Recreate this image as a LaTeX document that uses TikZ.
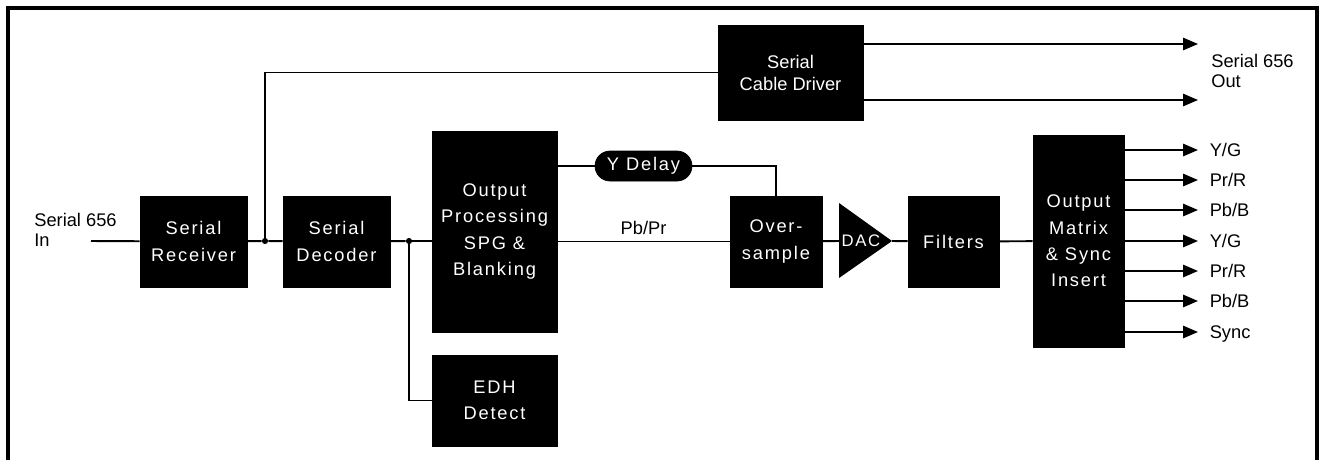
\documentclass[tikz,border=0pt]{standalone}
\usepackage{fontspec}
\setmainfont{Liberation Sans}
\newfontfamily\blkfont[LetterSpace=10]{Liberation Sans}
\usetikzlibrary{arrows.meta}

\begin{document}
\begin{tikzpicture}[x=0.02cm,y=-0.02cm,
  blk/.style={rectangle,fill=black,draw=black,text=white,inner sep=0pt,align=center,
    font=\blkfont\fontsize{10.4}{15}\selectfont},
  lbl/.style={inner sep=0pt,align=left,font=\fontsize{10.4}{11.5}\selectfont},
  outl/.style={anchor=west,inner xsep=6.5pt,inner ysep=0pt,text height=7.5pt,text depth=0pt,
    font=\fontsize{10.4}{12}\selectfont},
  wire/.style={line width=1.1pt},
  thin/.style={line width=0.6pt},
  arr/.style={line width=1.1pt,-{Triangle[length=8.5pt,width=7pt]}},
  dot/.style={circle,fill=black,inner sep=0pt,minimum size=3.5pt}]
\useasboundingbox (0,0) rectangle (1324,460);
\draw[line width=2pt] (8,460) -- (8,8) -- (1317,8) -- (1317,460);

% input
\path (34,230) node[lbl,anchor=west] (inl) {Serial 656\\In};
\coordinate (in) at (91,241);
\path (193.5,241.5) node[blk,minimum width=2.14cm,minimum height=1.82cm] (rec) {Serial\\Receiver};
\draw[wire] (in) -- (rec);
\path (265,241) node[dot] (j1) {};
\path (336.5,241.5) node[blk,minimum width=2.14cm,minimum height=1.82cm] (dec) {Serial\\Decoder};
\draw[wire] (rec) -- (j1) -- (dec);

% serial out
\path (790.5,72.5) node[blk,minimum width=2.9cm,minimum height=1.9cm,
  font=\fontsize{10.4}{12.5}\selectfont] (cdrv) {Serial\\Cable Driver};
\draw[thin] (j1) |- (cdrv);
\coordinate (so1) at (1198,44);
\coordinate (so2) at (1198,100);
\draw[arr] (cdrv.east |- so1) -- (so1);
\draw[arr] (cdrv.east |- so2) -- (so2);
\path (1211,71) node[lbl,anchor=west] (sol) {Serial 656\\Out};

% processing
\path (409,241) node[dot] (j2) {};
\draw[wire] (dec) -- (j2);
\path (494.5,231.5) node[blk,minimum width=2.5cm,minimum height=4.02cm] (proc) {Output\\Processing\\SPG \&\\Blanking};
\draw[wire] (j2) -- (proc.west |- j2);
\path (494.5,400.5) node[blk,minimum width=2.5cm,minimum height=1.82cm] (edh) {EDH\\Detect};
\draw[thin] (j2) |- (edh);

\path (643.5,166) node[blk,minimum width=1.94cm,minimum height=0.6cm,rounded corners=0.3cm] (ydel) {Y Delay};
\path (776,241.5) node[blk,minimum width=1.84cm,minimum height=1.82cm] (ovs) {Over-\\sample};
\draw[wire] (proc.east |- ydel) -- (ydel);
\draw[thin] (ydel) -| (ovs);
\draw[wire] (proc.east |- ovs) -- node[above,font=\fontsize{10.4}{12}\selectfont]{Pb/Pr} (ovs);

% DAC
\coordinate (dacin) at (839,241);
\coordinate (dacout) at (892,241);
\fill (839,203) -- (892,241) -- (839,278) -- cycle;
\path (861,241) node[text=white,inner sep=0pt,font=\blkfont\fontsize{9.5}{11}\selectfont] (dac) {DAC};
\draw[wire] (ovs) -- (dacin);
\path (953.5,241.5) node[blk,minimum width=1.82cm,minimum height=1.82cm] (filt) {Filters};
\draw[wire] (dacout) -- (filt);
\path (1078.5,241) node[blk,minimum width=1.82cm,minimum height=4.24cm] (mtx) {Output\\Matrix\\\& Sync\\Insert};
\draw[wire] (filt) -- (mtx);

% outputs
\path (1198,150) node[outl] (yg1) {Y/G};
\draw[arr] (mtx.east |- yg1) -- (yg1);
\path (1198,180) node[outl] (pr1) {Pr/R};
\draw[arr] (mtx.east |- pr1) -- (pr1);
\path (1198,210) node[outl] (pb1) {Pb/B};
\draw[arr] (mtx.east |- pb1) -- (pb1);
\path (1198,241) node[outl] (yg2) {Y/G};
\draw[arr] (mtx.east |- yg2) -- (yg2);
\path (1198,271) node[outl] (pr2) {Pr/R};
\draw[arr] (mtx.east |- pr2) -- (pr2);
\path (1198,301) node[outl] (pb2) {Pb/B};
\draw[arr] (mtx.east |- pb2) -- (pb2);
\path (1198,332) node[outl] (sync) {Sync};
\draw[arr] (mtx.east |- sync) -- (sync);
\end{tikzpicture}
\end{document}
